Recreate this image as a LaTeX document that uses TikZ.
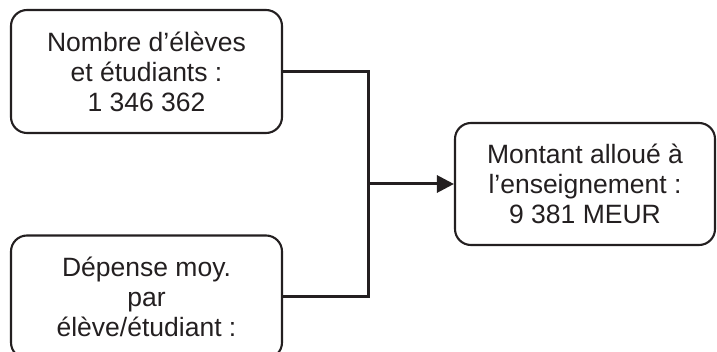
\documentclass[tikz,border=0pt]{standalone}
\usepackage{fontspec}
\setmainfont{Liberation Sans}
\usetikzlibrary{arrows.meta,positioning,calc}
\definecolor{inkgray}{RGB}{35,31,32}
\tikzset{
  databox/.style={draw=inkgray, line width=2.1pt, rounded corners=16pt, align=center,
    text=inkgray, font=\fontsize{26.5}{30}\selectfont, inner sep=0pt},
  link/.style={draw=inkgray, line width=3pt},
}
\begin{document}
\begin{tikzpicture}[x=1pt,y=-1pt]
			% page frame
			\useasboundingbox (0,0) rectangle (717,352);
			
			% input boxes
			\node[databox, minimum width=271pt, minimum height=123pt] (nombre) at (146.5,71.5)
				{Nombre d'élèves\\et étudiants :\\1 346 362};
			\node[databox, minimum width=271pt, minimum height=123pt] (depense) at (146.5,297)
				{Dépense moy.\\par\\élève/étudiant :};
			
			% result box
			\node[databox, minimum width=260pt, minimum height=122pt] (montant) at (585,184)
				{Montant alloué à\\l'enseignement :\\9 381 MEUR};
			
			% connectors
			\coordinate (join) at (368,184);
			\draw[link] (nombre.east) -| (join);
			\draw[link] (depense.east) -| (join);
			\draw[link, -{Triangle[length=17pt, width=17pt]}] (join) -- (montant.west);
		\end{tikzpicture}
\end{document}
